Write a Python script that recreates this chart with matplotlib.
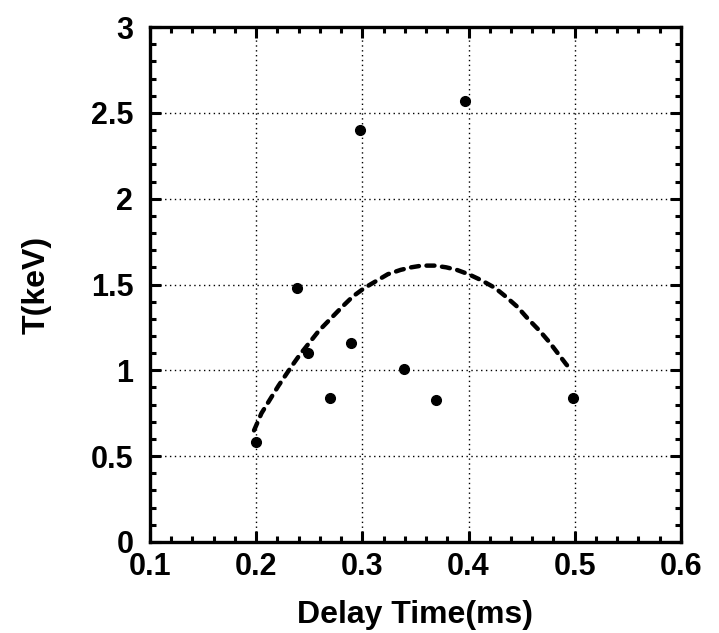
import numpy as np
import matplotlib.pyplot as plt
from matplotlib.ticker import MultipleLocator

# measured points
delay_ms = [0.200, 0.238, 0.249, 0.270, 0.289, 0.298, 0.339, 0.369, 0.397, 0.498]
temp_kev = [0.58, 1.48, 1.10, 0.84, 1.16, 2.40, 1.01, 0.83, 2.57, 0.84]

# dashed trend curve
fit_x = [0.198, 0.205, 0.213, 0.221, 0.233, 0.241, 0.250, 0.259, 0.270,
         0.281, 0.291, 0.302, 0.313, 0.324, 0.336, 0.346, 0.356, 0.368, 0.379,
         0.389, 0.400, 0.412, 0.425, 0.435, 0.446, 0.456, 0.467, 0.476, 0.484,
         0.492, 0.497]
fit_y = [0.65, 0.75, 0.83, 0.91, 1.02, 1.09, 1.16, 1.23, 1.30,
         1.37, 1.43, 1.48, 1.52, 1.56, 1.585, 1.60, 1.61, 1.61, 1.60,
         1.585, 1.56, 1.525, 1.48, 1.43, 1.37, 1.30, 1.23, 1.165, 1.10,
         1.035, 1.00]

FONT = ['Liberation Sans', 'DejaVu Sans']

fig = plt.figure(figsize=(7.19, 6.33), dpi=100)
ax = fig.add_axes([0.2086, 0.1438, 0.7384, 0.8135])

ax.plot(fit_x, fit_y, color='black', lw=3.2, linestyle=(0, (1.8, 1.7)),
        dash_capstyle='round', solid_joinstyle='round', zorder=3)
ax.plot(delay_ms, temp_kev, 'o', color='black', markersize=7, zorder=4)

ax.set_xlim(0.1, 0.6)
ax.set_ylim(0, 3)
ax.xaxis.set_major_locator(MultipleLocator(0.1))
ax.xaxis.set_minor_locator(MultipleLocator(0.02))
ax.yaxis.set_major_locator(MultipleLocator(0.5))
ax.yaxis.set_minor_locator(MultipleLocator(0.1))

ax.grid(True, which='major', color='black', linestyle=(0, (1, 2.5)), lw=1.0)

ax.tick_params(which='both', direction='in', top=True, right=True, width=2.2)
ax.tick_params(which='major', length=8, pad=7)
ax.tick_params(which='minor', length=4.5)
ax.tick_params(axis='y', which='major', pad=12)

for s in ax.spines.values():
    s.set_linewidth(2.4)

xt = [0.1, 0.2, 0.3, 0.4, 0.5, 0.6]
yt = [0, 0.5, 1, 1.5, 2, 2.5, 3]
ax.set_xticks(xt)
ax.set_xticklabels([f'{v:g}' for v in xt], family=FONT, fontsize=22, fontweight='bold')
ax.set_yticks(yt)
ax.set_yticklabels([f'{v:g}' for v in yt], family=FONT, fontsize=22, fontweight='bold')

ax.set_xlabel('Delay Time(ms)', family=FONT, fontsize=23, fontweight='bold', labelpad=13)
ax.set_ylabel('T(keV)', family=FONT, fontsize=23, fontweight='bold', labelpad=28)

fig.savefig('out.png', dpi=100)
